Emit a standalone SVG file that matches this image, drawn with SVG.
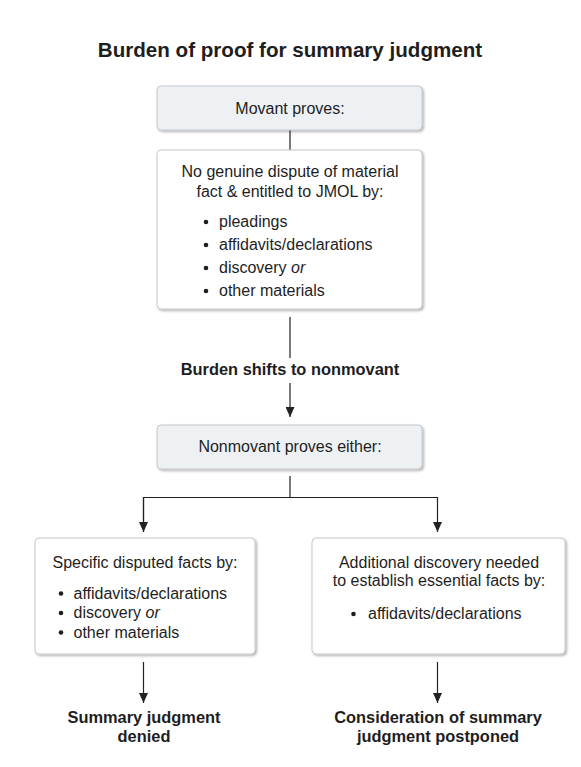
<svg xmlns="http://www.w3.org/2000/svg" width="581" height="767" viewBox="0 0 581 767">
<style>
text{font-family:"Liberation Sans",Arial,sans-serif;fill:#1e1e1e;font-size:16px}
.t{font-size:20.6px;font-weight:bold;text-anchor:middle}
.b{font-weight:bold;text-anchor:middle;font-size:16.4px}
.c{text-anchor:middle}
.box{stroke:#c4c7cb;stroke-width:1;filter:url(#sh)}
.g{fill:#eef1f4}
.w{fill:#ffffff}
.ln{stroke:#222;stroke-width:1.2;fill:none}
.dot{fill:#1e1e1e}
</style>
<defs>
<filter id="sh" x="-10%" y="-10%" width="125%" height="130%">
<feDropShadow dx="1.5" dy="1.5" stdDeviation="1.2" flood-color="#000" flood-opacity="0.3"/>
</filter>
<marker id="ar" markerWidth="10" markerHeight="9" refX="10" refY="4.5" orient="auto" markerUnits="userSpaceOnUse">
<path d="M0,0 L10,4.5 L0,9 z" fill="#222"/>
</marker>
</defs>
<text class="t" x="290" y="57">Burden of proof for summary judgment</text>
<g id="connectors">
<line class="ln" x1="290" y1="130" x2="290" y2="150"/>
<line class="ln" x1="290" y1="317" x2="290" y2="358"/>
<line class="ln" x1="290" y1="383" x2="290" y2="417" marker-end="url(#ar)"/>
<polyline class="ln" points="290,476 290,497.5"/>
<polyline class="ln" points="143.5,532 143.5,497.5 437.5,497.5 437.5,532" marker-end="url(#ar)"/>
<line class="ln" x1="143.5" y1="497.5" x2="143.5" y2="532" marker-end="url(#ar)"/>
<line class="ln" x1="143.5" y1="662" x2="143.5" y2="703" marker-end="url(#ar)"/>
<line class="ln" x1="437.5" y1="662" x2="437.5" y2="703" marker-end="url(#ar)"/>
</g>
<g id="movant">
<rect class="box g" x="157" y="86" width="265" height="44" rx="4"/>
<text class="c" x="290" y="114">Movant proves:</text>
</g>
<g id="no-dispute">
<rect class="box w" x="157" y="150" width="265" height="159" rx="4"/>
<text class="c" x="290" y="177">No genuine dispute of material</text>
<text class="c" x="290" y="197">fact &amp; entitled to JMOL by:</text>
<circle class="dot" cx="206" cy="222" r="2.3"/>
<text x="219" y="227">pleadings</text>
<circle class="dot" cx="206" cy="245" r="2.3"/>
<text x="219" y="250">affidavits/declarations</text>
<circle class="dot" cx="206" cy="268" r="2.3"/>
<text x="219" y="273">discovery <tspan font-style="italic">or</tspan></text>
<circle class="dot" cx="206" cy="291" r="2.3"/>
<text x="219" y="296">other materials</text>
</g>
<g id="burden-label">
<text class="b" x="290" y="375">Burden shifts to nonmovant</text>
</g>
<g id="nonmovant">
<rect class="box g" x="157" y="425" width="265" height="44" rx="4"/>
<text class="c" x="290" y="452">Nonmovant proves either:</text>
</g>
<g id="specific">
<rect class="box w" x="35" y="538" width="220" height="116" rx="4"/>
<text class="c" x="145" y="568">Specific disputed facts by:</text>
<circle class="dot" cx="61" cy="593.5" r="2.3"/>
<text x="73.5" y="598.5">affidavits/declarations</text>
<circle class="dot" cx="61" cy="613" r="2.3"/>
<text x="73.5" y="618">discovery <tspan font-style="italic">or</tspan></text>
<circle class="dot" cx="61" cy="632.5" r="2.3"/>
<text x="73.5" y="637.5">other materials</text>
</g>
<g id="additional">
<rect class="box w" x="312" y="538" width="253" height="116" rx="4"/>
<text class="c" x="439" y="568">Additional discovery needed</text>
<text class="c" x="439" y="586">to establish essential facts by:</text>
<circle class="dot" cx="353.5" cy="614" r="2.3"/>
<text x="368" y="619">affidavits/declarations</text>
</g>
<g id="denied">
<text class="b" x="144" y="723">Summary judgment</text>
<text class="b" x="144" y="742">denied</text>
</g>
<g id="postponed">
<text class="b" x="438" y="723">Consideration of summary</text>
<text class="b" x="438" y="742">judgment postponed</text>
</g>
</svg>
